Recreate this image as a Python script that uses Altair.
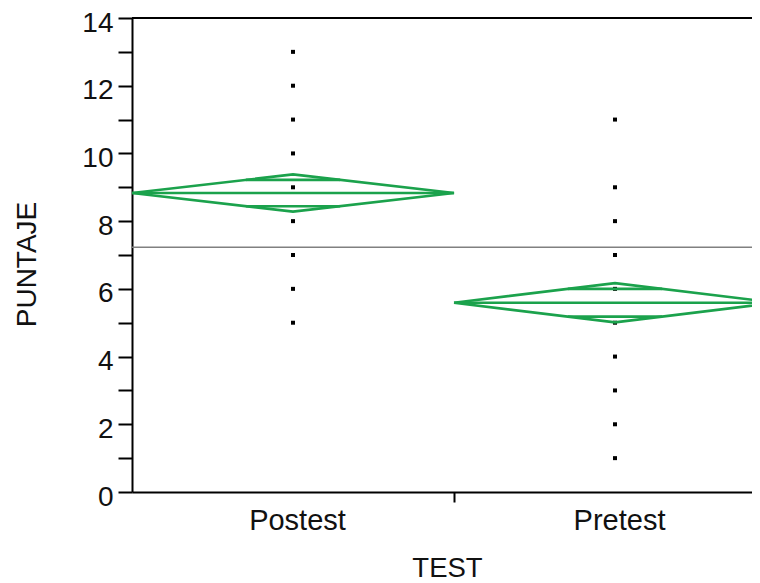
import altair as alt
import pandas as pd
import math

# ---- data ----
groups = ["Postest", "Pretest"]
post_scores = [13, 12, 11, 10, 9, 8, 7, 6, 5]
pre_scores = [11, 9, 8, 7, 6, 5, 4, 3, 2, 1]
means = [8.83, 5.59]
ci_half = [0.55, 0.58]
grand_mean = 7.23
y_ticks = list(range(0, 15))

GREEN = "#1ba24c"
FONT = "Liberation Sans"

# group i occupies [i, i+1] on the x axis, centred at i+0.5
pts = []
for g, scores in zip(groups, [post_scores, pre_scores]):
    c = groups.index(g) + 0.5
    for s in scores:
        pts.append({"group": g, "x": c, "score": s})
pts = pd.DataFrame(pts)

dia = []
for i, g in enumerate(groups):
    left, c, right = i, i + 0.5, i + 1
    m, h = means[i], ci_half[i]
    seq = [(left, m), (c, m + h), (right, m), (c, m - h), (left, m)]
    for k, (xx, yy) in enumerate(seq):
        dia.append({"group": g, "ord": k, "x": xx, "y": yy})
dia = pd.DataFrame(dia)

rules = []
for i, g in enumerate(groups):
    left, c, right = i, i + 0.5, i + 1
    m, h = means[i], ci_half[i]
    rules.append({"group": g, "x": left, "x2": right, "y": m})
    d = h / math.sqrt(2)
    frac = 1 - d / h
    for sgn in (1, -1):
        rules.append({"group": g, "x": c - frac * 0.5, "x2": c + frac * 0.5, "y": m + sgn * d})
rules = pd.DataFrame(rules)

W = 620
xscale = alt.Scale(domain=[0, W / 322], nice=False, zero=False)
yscale = alt.Scale(domain=[0, 14], nice=False, zero=False)

xaxis = alt.Axis(
    values=[0.5, 1, 1.5],
    labelExpr="datum.value == 0.5 ? 'Postest' : (datum.value == 1.5 ? 'Pretest' : '')",
    tickColor={"condition": {"test": "datum.value == 1", "value": "black"}, "value": "transparent"},
    tickSize=10,
    labelPadding=4,
    labelFontSize=29,
    labelOffset=4,
    title="TEST",
    titleX=315,
    titleY=84,
    titleBaseline="alphabetic",
    titleFontSize=27.5,
    grid=False,
    labelOverlap=False,
)
yaxis = alt.Axis(
    values=y_ticks,
    labelExpr="datum.value % 2 == 0 ? datum.label : ''",
    tickSize=14,
    labelPadding=5,
    labelFontSize=28,
    labelOffset=5,
    title="PUNTAJE",
    titleX=-97,
    titleY=246,
    titleAngle=-90,
    titleAlign="center",
    titleBaseline="alphabetic",
    titleFontSize=28,
    grid=False,
    labelOverlap=False,
)

points = alt.Chart(pts).mark_square(size=16, color="black", opacity=1).encode(
    x=alt.X("x:Q", scale=xscale, axis=xaxis),
    y=alt.Y("score:Q", scale=yscale, axis=yaxis),
)

top_border = alt.Chart(pd.DataFrame({"y": [14]})).mark_rule(color="black", strokeWidth=2).encode(
    y=alt.Y("y:Q", scale=yscale, axis=yaxis)
)
mean_line = alt.Chart(pd.DataFrame({"y": [grand_mean]})).mark_rule(color="#808080", strokeWidth=1.5).encode(
    y=alt.Y("y:Q", scale=yscale, axis=yaxis)
)

diamonds = alt.Chart(dia).mark_line(color=GREEN, strokeWidth=2.6, clip=True).encode(
    x=alt.X("x:Q", scale=xscale, axis=xaxis),
    y=alt.Y("y:Q", scale=yscale, axis=yaxis),
    detail="group:N",
    order="ord:Q",
)
inner = alt.Chart(rules).mark_rule(color=GREEN, strokeWidth=2.6, clip=True).encode(
    x=alt.X("x:Q", scale=xscale, axis=xaxis),
    x2="x2:Q",
    y=alt.Y("y:Q", scale=yscale, axis=yaxis),
)

chart = alt.layer(points, mean_line, top_border, diamonds, inner).properties(
    width=W,
    height=474,
    autosize=alt.AutoSizeParams(type="none"),
    padding={"left": 124, "top": 10, "right": 0, "bottom": 91},
).configure_view(stroke=None).configure_axis(
    domainColor="black",
    domainWidth=2,
    tickColor="black",
    tickWidth=2,
    labelFont=FONT,
    labelColor="#111111",
    titleFont=FONT,
    titleFontWeight="normal",
    titleColor="#111111",
)

chart.save("out.html", embed_options={"renderer": "svg", "actions": False})
